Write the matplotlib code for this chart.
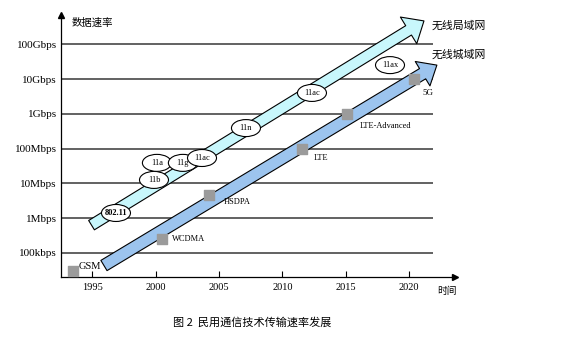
import numpy as np
import matplotlib.pyplot as plt
from matplotlib.patches import Ellipse

plt.rcParams['font.family'] = ['Liberation Serif', 'Noto Sans CJK SC']
CJK = ['Noto Sans CJK SC', 'DejaVu Sans']

# y axis: log10 of data rate (bps)
rate_levels = [5, 6, 7, 8, 9, 10, 11]
rate_labels = ['100kbps', '1Mbps', '10Mbps', '100Mbps', '1Gbps', '10Gbps', '100Gbps']
year_ticks = [1995, 2000, 2005, 2010, 2015, 2020]

# cellular (WWAN) milestones: year, log10(rate)
wwan_names = ['GSM', 'WCDMA', 'HSDPA', 'LTE', 'LTE-Advanced', '5G']
wwan_years = [1993.5, 2000.5, 2004.2, 2011.55, 2015.1, 2020.4]
wwan_rates = [4.48, 5.40, 6.67, 7.99, 9.00, 10.00]

# Wi-Fi (WLAN) standards: year, log10(rate)
wlan_names = ['802.11', '11b', '11a', '11g', '11ac', '11n', '11ac', '11ax']
wlan_years = [1996.87, 1999.87, 2000.1, 2002.15, 2003.66, 2007.13, 2012.34, 2018.5]
wlan_rates = [6.15, 7.10, 7.59, 7.59, 7.73, 8.59, 9.60, 10.40]

# trend arrows: (tail year, tail rate) -> (tip year, tip rate)
wlan_trend = [(1994.94, 5.80), (2021.18, 11.67)]
wwan_trend = [(1995.92, 4.64), (2022.2, 10.40)]

W, H = 563, 355
fig = plt.figure(figsize=(W / 100, H / 100), dpi=100)
ax = fig.add_axes([61 / W, 78 / H, (455 - 61) / W, (277 - 15) / H])
ax.set_xlim(1992.53, 2023.63)
ax.set_ylim(4.31, 11.84)
px_year = 12.67   # pixels per year
px_dec = 34.8     # pixels per decade

# grid lines
ax.hlines(rate_levels, 1992.53, 2021.9, color='#555555', lw=1.3, zorder=1)

# axes with arrowheads
for s in ['top', 'right']:
    ax.spines[s].set_visible(False)
for s in ['left', 'bottom']:
    ax.spines[s].set_linewidth(0.9)
ax.plot(1, 0, '>', color='k', ms=5, transform=ax.transAxes, clip_on=False)
ax.plot(0, 1, '^', color='k', ms=5, transform=ax.transAxes, clip_on=False)

ax.set_yticks(rate_levels)
ax.set_yticklabels(rate_labels)
ax.tick_params(axis='y', length=0, pad=3, labelsize=8)
ax.set_xticks(year_ticks)
ax.tick_params(axis='x', direction='in', length=4, width=0.8, pad=4, labelsize=7.5)

# trend arrows
def trend_arrow(pts, fc, tail_w, head_w, head_l):
    ax.annotate('', xy=pts[1], xytext=pts[0],
                arrowprops=dict(arrowstyle=f'simple,tail_width={tail_w},head_width={head_w},head_length={head_l}',
                                fc=fc, ec='k', lw=0.8, shrinkA=0, shrinkB=0, mutation_scale=1),
                zorder=2)

trend_arrow(wlan_trend, '#c8f7fc', 7.9, 22.5, 13)
trend_arrow(wwan_trend, '#9cc4ee', 8.6, 20.5, 12)

# WLAN ellipses
ew, eh = 29 / px_year, 17 / px_dec
for i, (name, x, y) in enumerate(zip(wlan_names, wlan_years, wlan_rates)):
    ax.add_patch(Ellipse((x, y), ew, eh, fc='white', ec='k', lw=0.8, zorder=4 + i * 0.1))
    ax.text(x, y, name, ha='center', va='center', fontsize=6,
            fontweight='bold' if name == '802.11' else 'normal', zorder=4 + i * 0.1 + 0.05)

# WWAN milestones
ax.scatter(wwan_years, wwan_rates, marker='s', s=62, color='#9b9b9b', zorder=5)
label_offsets = [(5, 5), (10, 0), (15, -7), (12, -9), (13, -12), (8, -14)]
label_sizes = [7.5, 6, 6, 6, 6, 6.5]
for name, x, y, off, fs in zip(wwan_names, wwan_years, wwan_rates, label_offsets, label_sizes):
    ax.annotate(name, (x, y), xytext=off, textcoords='offset pixels',
                ha='left', va='center', fontsize=fs, zorder=6)

# texts
fig.text(72 / W, 1 - 23 / H, '数据速率', family=CJK, fontsize=7.5, ha='left', va='center')
fig.text(437 / W, 1 - 291 / H, '时间', family=CJK, fontsize=7, ha='left', va='center')
fig.text(432 / W, 1 - 26 / H, '无线局域网', family=CJK, fontsize=7.8, ha='left', va='center')
fig.text(432 / W, 1 - 55 / H, '无线城域网', family=CJK, fontsize=7.8, ha='left', va='center')
fig.text(252 / W, 1 - 323 / H, '图 2  民用通信技术传输速率发展', family=CJK, fontsize=8,
         ha='center', va='center')

fig.savefig('out.png', dpi=100)
